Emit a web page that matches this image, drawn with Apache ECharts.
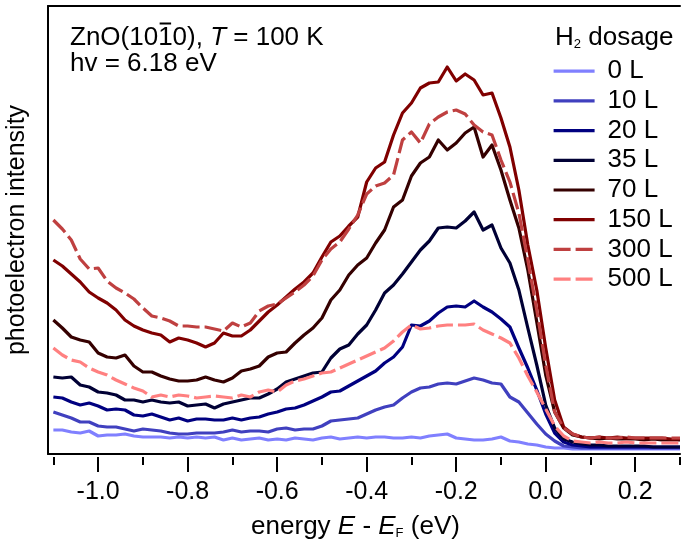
<!DOCTYPE html>
<html>
<head>
<meta charset="utf-8">
<script src="https://cdn.jsdelivr.net/npm/echarts@6/dist/echarts.min.js"></script>
<style>
html,body{margin:0;padding:0;background:#fff;}
#chart{width:681px;height:548px;}
</style>
</head>
<body>
<div id="chart"></div>
<script>
// ---- data (photoelectron intensity, arbitrary units) ----
const energy = [
-1.10,-1.08,-1.06,-1.04,-1.02,-1.00,-0.98,-0.96,-0.94,-0.92,
-0.90,-0.88,-0.86,-0.84,-0.82,-0.80,-0.78,-0.76,-0.74,-0.72,
-0.70,-0.68,-0.66,-0.64,-0.62,-0.60,-0.58,-0.56,-0.54,-0.52,
-0.50,-0.48,-0.46,-0.44,-0.42,-0.40,-0.38,-0.36,-0.34,-0.32,
-0.30,-0.28,-0.26,-0.24,-0.22,-0.20,-0.18,-0.16,-0.14,-0.12,
-0.10,-0.08,-0.06,-0.04,-0.02,0.00,0.02,0.04,0.06,0.08,
0.10,0.12,0.14,0.16,0.18,0.20,0.22,0.24,0.26,0.28,
0.30];

const dose0 = [
24,24,22,21,23,18,19,19,20,18,
17,17,17,16,17,16,17,16,17,14,
16,14,15,16,14,15,14,16,15,14,
16,17,15,16,17,16,17,17,16,16,
17,16,18,19,20,16,15,14,14,15,
17,13,12,10,9,7,6,6,5,5,
5,5,5,5,5,5,5,5,5,5,5];

const dose10 = [
42,39,36,32,32,28,27,27,25,23,
25,24,23,21,20,20,21,21,21,22,
24,22,23,23,22,25,26,24,25,25,
28,33,34,35,36,40,44,47,49,56,
62,66,67,70,71,70,73,76,74,71,
70,57,52,41,30,20,13,8,7,6,
6,6,6,6,6,6,6,6,6,6,6];

const dose20 = [
57,56,52,49,51,48,44,45,44,39,
38,40,37,34,36,33,35,35,34,34,
36,34,36,37,40,42,45,46,49,53,
57,62,63,68,73,78,83,91,97,107,
129,128,133,141,147,148,147,153,147,142,
135,127,106,86,64,40,21,12,9,8,
7,7,7,7,7,7,7,7,7,7,7];

const dose35 = [
77,76,77,69,67,62,61,59,54,54,
52,54,52,51,52,48,49,50,46,50,
52,54,56,56,60,65,72,75,78,81,
82,96,105,109,120,129,144,161,169,180,
192,204,213,226,227,226,233,242,224,229,
206,191,164,126,89,49,26,15,12,10,
9,9,8,8,8,8,8,7,7,7,7];

const dose70 = [
134,126,117,114,112,101,97,96,99,88,
82,82,78,75,73,73,74,77,74,72,
76,83,85,88,97,101,102,111,119,126,
136,154,164,179,189,196,211,224,247,254,
278,291,297,314,304,311,321,327,297,309,
284,254,226,184,132,79,42,26,19,17,
16,15,16,15,15,15,14,15,14,14,14];

const dose150 = [
194,188,180,172,162,156,151,144,134,128,
124,121,119,112,116,114,111,107,111,121,
118,118,124,133,142,149,157,165,172,181,
197,212,218,228,237,272,286,292,319,341,
351,366,371,372,387,373,380,374,359,361,
336,307,264,209,164,106,54,27,20,17,
16,17,16,17,16,16,16,16,16,15,15];

const dose300 = [
234,225,214,195,185,186,173,166,161,155,
146,138,136,133,128,128,127,127,125,123,
131,127,131,143,148,150,156,162,169,178,
194,205,212,225,239,260,268,271,279,314,
322,311,330,337,342,344,340,329,322,319,
294,272,241,194,144,89,42,26,20,17,
16,17,16,16,17,16,16,16,16,16,16];

const dose500 = [
106,99,94,92,86,82,79,74,70,66,
63,57,59,57,59,58,56,57,58,57,
56,59,57,62,64,62,69,73,75,78,
81,82,86,90,94,98,102,106,113,122,
129,125,126,128,129,129,129,130,124,120,
116,111,96,78,62,45,28,18,13,12,
11,12,11,11,12,11,11,11,11,11,11];

const seriesNames = ['0 L','10 L','20 L','35 L','70 L','150 L','300 L','500 L'];
const seriesValues = [dose0, dose10, dose20, dose35, dose70, dose150, dose300, dose500];
const majorTickValues = [-1.0,-0.8,-0.6,-0.4,-0.2,0.0,0.2];
const minorTickValues = [-1.1,-0.9,-0.7,-0.5,-0.3,-0.1,0.1,0.3];

// ---- styles ----
const seriesColors = ['#8080ff','#4040bf','#000080','#000035','#350000','#800000','#bf4040','#ff8080'];
const seriesDashed = [false,false,false,false,false,false,true,true];
const FONT = 'Liberation Sans, Arial, sans-serif';
const LW = 3.2;
const DASH = [17,5];

seriesValues.forEach((a,i)=>{ if(a.length!==energy.length) throw new Error(seriesNames[i]+' length '+a.length); });

const chart = echarts.init(document.getElementById('chart'), null, {renderer:'canvas'});

function textWidth(s, font){
  const c = document.createElement('canvas').getContext('2d');
  c.font = font; return c.measureText(s).width;
}
const annX = 70;
const ANN = 26;
const fAnn = ANN + 'px "Liberation Sans"';
const ovX1 = annX + textWidth('ZnO(10', fAnn) + 1.5;
const ovX2 = annX + textWidth('ZnO(101', fAnn) - 1.5;

const XMIN = -1.112, XMAX = 0.3;

const option = {
  animation: false,
  backgroundColor: '#fff',
  grid: {left: 48, right: 1, top: 6, bottom: 94, containLabel: false, outerBoundsMode: 'none'},
  xAxis: [
    {type:'value', min:XMIN, max:XMAX, position:'bottom',
     axisLine:{show:true, onZero:false, lineStyle:{color:'#000', width:2}},
     axisTick:{show:false}, axisLabel:{show:false}, splitLine:{show:false}},
    {type:'value', min:XMIN, max:XMAX, position:'bottom', offset:3,
     axisLine:{show:false, onZero:false},
     axisTick:{show:true, customValues: majorTickValues, length:15, lineStyle:{color:'#000', width:2}},
     axisLabel:{show:true, customValues: majorTickValues, margin:22.5, fontSize:25, lineHeight:25,
       fontFamily:FONT, color:'#000', formatter: v => Number(v).toFixed(1)},
     splitLine:{show:false}},
    {type:'value', min:XMIN, max:XMAX, position:'bottom', offset:3,
     axisLine:{show:false, onZero:false},
     axisTick:{show:true, customValues: minorTickValues, length:8, lineStyle:{color:'#000', width:2}},
     axisLabel:{show:false}, splitLine:{show:false}},
    {type:'value', min:XMIN, max:XMAX, position:'top',
     axisLine:{show:true, onZero:false, lineStyle:{color:'#000', width:2}},
     axisTick:{show:false}, axisLabel:{show:false}, splitLine:{show:false}}
  ],
  yAxis: {
    type:'value', min:0, max:448,
    axisLine:{show:true, onZero:false, lineStyle:{color:'#000', width:2}},
    axisTick:{show:false}, axisLabel:{show:false}, splitLine:{show:false}
  },
  legend: {
    data: seriesNames.map((name,i)=>({
      name,
      itemStyle:{opacity:0},
      lineStyle:{color:seriesColors[i], width:LW, type: seriesDashed[i] ? DASH : 'solid', cap:'butt'}
    })),
    orient:'vertical', left:552, top:58.2, padding:0,
    itemWidth:41, itemHeight:14, itemGap:3.7, selectedMode:false,
    textStyle:{fontSize:ANN, lineHeight:25, fontFamily:FONT, color:'#000', padding:[0,0,0,8]}
  },
  series: seriesNames.map((name,i)=>({
    name, type:'line', xAxisIndex:0, yAxisIndex:0,
    data: energy.map((e,j)=>[e, seriesValues[i][j]]),
    symbol:'none', showSymbol:false, smooth:false,
    lineStyle:{color:seriesColors[i], width:LW, type: seriesDashed[i] ? DASH : 'solid', cap:'butt', join:'round'},
    itemStyle:{color:seriesColors[i]},
    emphasis:{disabled:true}, silent:true, z: 2+i
  })),
  graphic: [
    {type:'text', x:17, y:230, rotation:Math.PI/2, style:{
      text:'photoelectron intensity', align:'center', verticalAlign:'middle',
      fontSize:25, fontFamily:FONT, fill:'#000'}},
    {type:'text', x:annX, y:37.5, style:{
      text:'{a|ZnO(1010), }{i|T}{a| = 100 K}', align:'left', verticalAlign:'middle',
      rich:{a:{fontSize:ANN, fontFamily:FONT, fill:'#000', lineHeight:26},
            i:{fontSize:ANN, fontFamily:FONT, fontStyle:'italic', fill:'#000', lineHeight:26}}}},
    {type:'line', shape:{x1:ovX1, y1:23.5, x2:ovX2, y2:23.5}, style:{stroke:'#000', lineWidth:2}},
    {type:'text', x:annX, y:63.7, style:{
      text:'hv = 6.18 eV', align:'left', verticalAlign:'middle',
      fontSize:ANN, fontFamily:FONT, fill:'#000'}},
    {type:'text', x:555, y:37.5, style:{
      text:'{a|H}{s|2}{a| dosage}', align:'left', verticalAlign:'middle',
      rich:{a:{fontSize:ANN, fontFamily:FONT, fill:'#000', lineHeight:26},
            s:{fontSize:13, fontFamily:FONT, fill:'#000', lineHeight:6, verticalAlign:'bottom'}}}},
    {type:'text', x:355.5, y:527, style:{
      text:'{a|energy }{i|E}{a| - }{i|E}{s|F}{a| (eV)}', align:'center', verticalAlign:'middle',
      rich:{a:{fontSize:ANN, fontFamily:FONT, fill:'#000', lineHeight:26},
            i:{fontSize:ANN, fontFamily:FONT, fontStyle:'italic', fill:'#000', lineHeight:26},
            s:{fontSize:13, fontFamily:FONT, fill:'#000', lineHeight:10, verticalAlign:'bottom'}}}}
  ]
};
chart.setOption(option);
</script>
</body>
</html>
